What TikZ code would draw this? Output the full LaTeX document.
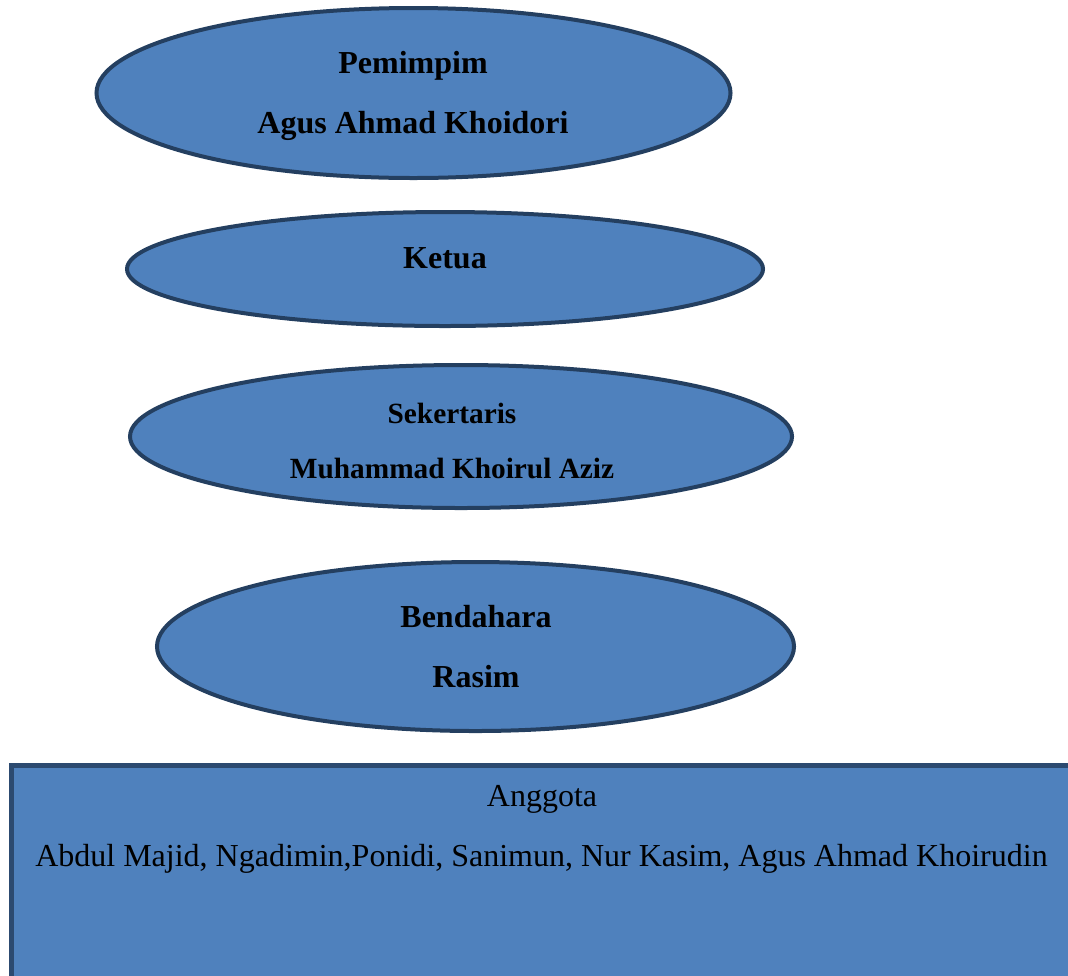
\documentclass[tikz,border=0pt]{standalone}
\usepackage{fontspec}
\setmainfont{Liberation Serif}
\usetikzlibrary{shapes.geometric}
\definecolor{fillblue}{HTML}{4F81BD}
\definecolor{edgeblue}{HTML}{243F60}
\definecolor{boxedge}{HTML}{2C4A70}
\tikzset{
  oval/.style={ellipse, draw=edgeblue, fill=fillblue, line width=1.5pt, inner sep=0pt},
  bigtxt/.style={font=\fontsize{12}{14}\selectfont\bfseries, anchor=base, inner sep=0pt},
  midtxt/.style={font=\fontsize{11}{13}\selectfont\bfseries, anchor=base, inner sep=0pt},
  plaintxt/.style={font=\fontsize{12}{14}\selectfont, anchor=base, inner sep=0pt},
  memberbox/.style={draw=boxedge, fill=fillblue, line width=1.7pt}
}
\begin{document}
\begin{tikzpicture}[x=0.375pt, y=-0.375pt]
\useasboundingbox (0,0) rectangle (1068,975);
\clip (0,0) rectangle (1068,975);
% ellipses
\node[oval, minimum width=634*0.375pt, minimum height=170*0.375pt] (e1) at (413.5,93) {};
\node[oval, minimum width=636*0.375pt, minimum height=114*0.375pt] (e2) at (445,269) {};
\node[oval, minimum width=662*0.375pt, minimum height=143*0.375pt] (e3) at (461,436.5) {};
\node[oval, minimum width=637*0.375pt, minimum height=169*0.375pt] (e4) at (475.5,646.5) {};
% texts
\node[bigtxt] (t1a) at (413,73) {Pemimpim};
\node[bigtxt] (t1b) at (413,133) {Agus Ahmad Khoidori};
\node[bigtxt] (t2) at (445,268) {Ketua};
\node[midtxt] (t3a) at (452,423) {Sekertaris};
\node[midtxt] (t3b) at (452,478) {Muhammad Khoirul Aziz};
\node[bigtxt] (t4a) at (476,627) {Bendahara};
\node[bigtxt] (t4b) at (476,687) {Rasim};
% member box
\node[memberbox, minimum width=1080*0.375pt, minimum height=230*0.375pt, inner sep=0pt, anchor=north west] (box) at (9,763) {};
\node[plaintxt] (t5a) at (542,806) {Anggota};
\node[plaintxt] (t5b) at (541.5,866) {Abdul Majid, Ngadimin,Ponidi, Sanimun, Nur Kasim, Agus Ahmad Khoirudin};
\end{tikzpicture}
\end{document}
